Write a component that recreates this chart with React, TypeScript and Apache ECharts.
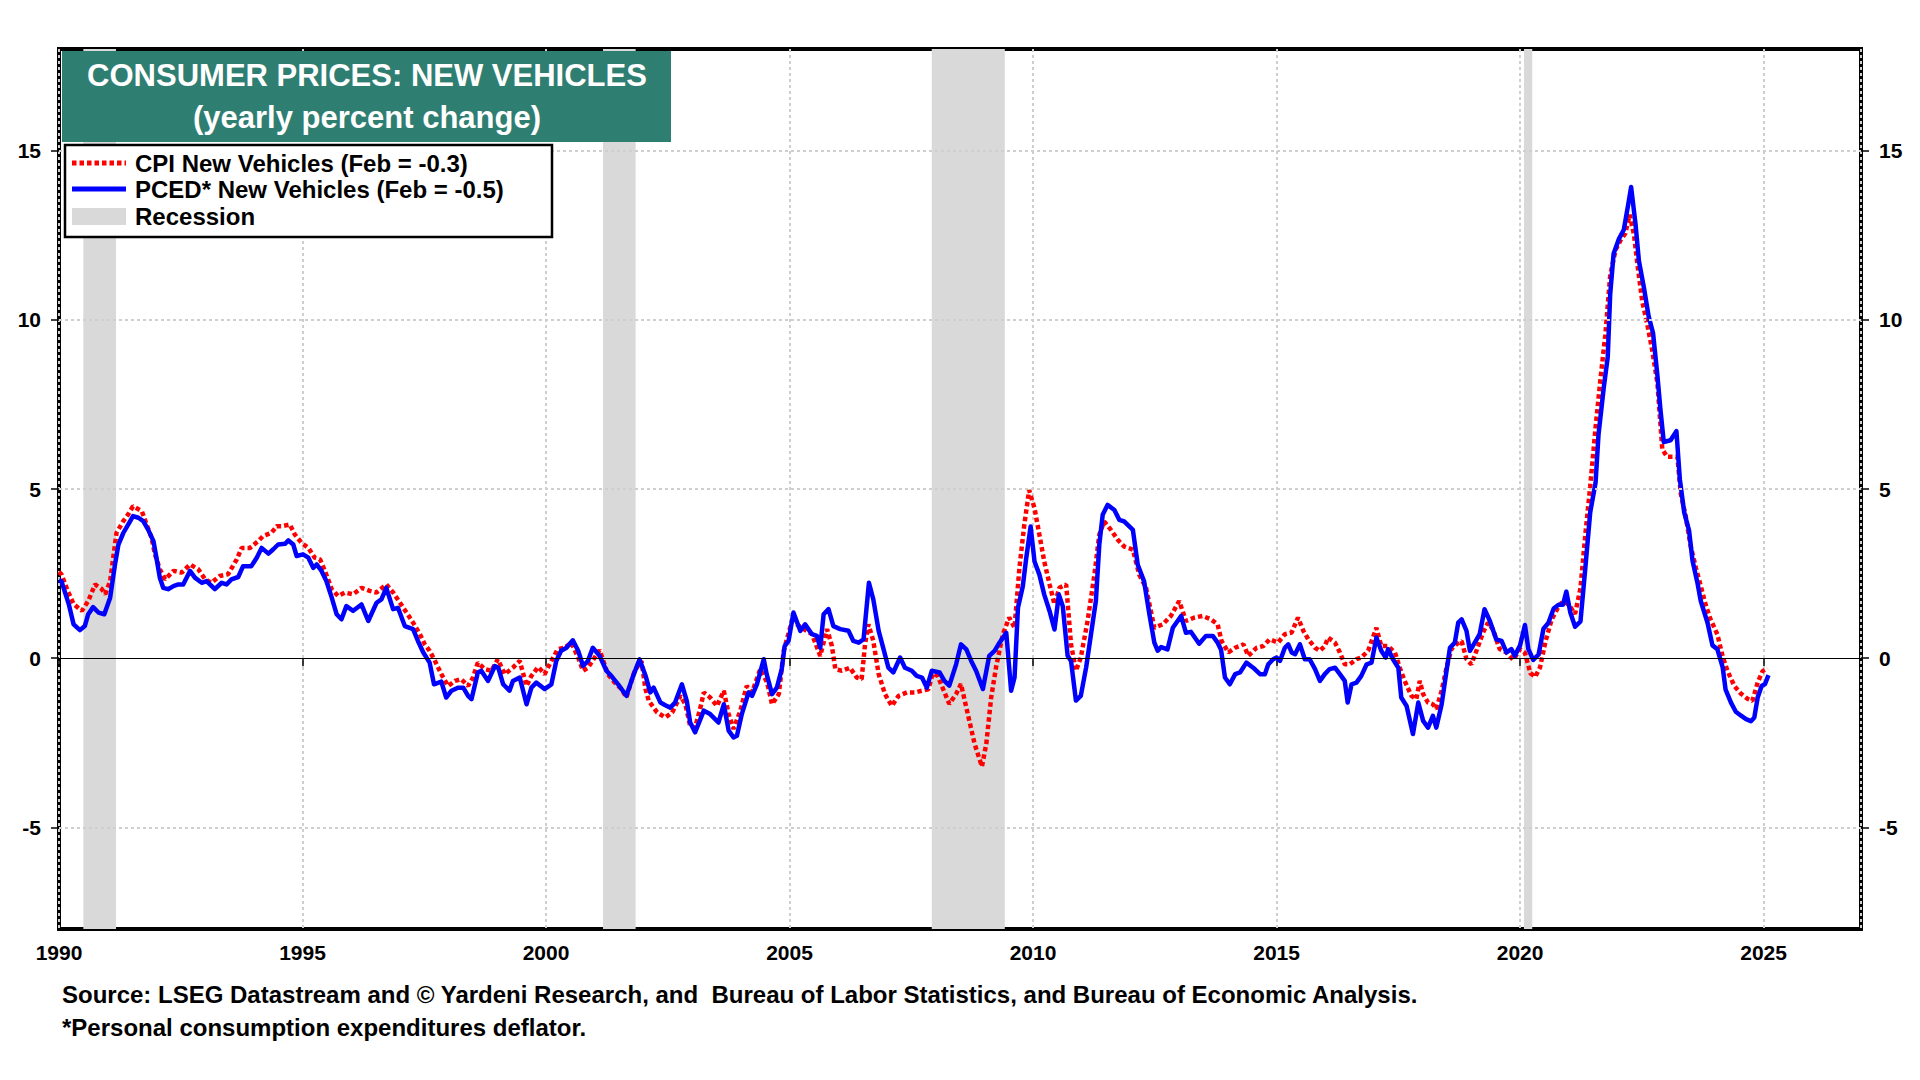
import React, { useEffect, useRef } from "react";
import * as echarts from "echarts";

const FONT = "'Liberation Sans', Arial, Helvetica, sans-serif";

const TITLE_LINE1 = "CONSUMER PRICES: NEW VEHICLES";
const TITLE_LINE2 = "(yearly percent change)";
const CPI_LABEL = "CPI New Vehicles (Feb = -0.3)";
const PCED_LABEL = "PCED* New Vehicles (Feb = -0.5)";
const RECESSION_LABEL = "Recession";
const SOURCE_LINE1 =
  "Source: LSEG Datastream and \u00A9 Yardeni Research, and  Bureau of Labor Statistics, and Bureau of Economic Analysis.";
const SOURCE_LINE2 = "*Personal consumption expenditures deflator.";

const X_MIN = 1990;
const X_MAX = 2027;
const Y_MIN = -8;
const Y_MAX = 18;
const Y_TICKS = [-5, 0, 5, 10, 15];
const Y_GRID = [-5, 5, 10, 15];

const RECESSIONS: [number, number][] = [
  [1990.5, 1991.17],
  [2001.17, 2001.84],
  [2007.92, 2009.42],
  [2020.08, 2020.25],
];

// CPI New Vehicles, yearly % change [decimal year, value]
const cpi1990s: [number, number][] = [
  [1990.0, 2.55], [1990.05, 2.48], [1990.18, 1.99], [1990.3, 1.6], [1990.47, 1.4], [1990.6, 1.69],
  [1990.74, 2.18], [1990.88, 2.04], [1990.95, 1.89], [1991.05, 2.28], [1991.18, 3.7], [1991.32, 4.05],
  [1991.42, 4.25], [1991.52, 4.49], [1991.7, 4.35], [1991.8, 3.95], [1991.9, 3.56], [1991.97, 3.07],
  [1992.07, 2.63], [1992.18, 2.33], [1992.35, 2.58], [1992.52, 2.53], [1992.69, 2.77], [1992.86, 2.63],
  [1993.0, 2.33], [1993.13, 2.23], [1993.3, 2.43], [1993.47, 2.48], [1993.65, 2.92], [1993.75, 3.26],
  [1993.92, 3.26], [1994.09, 3.46], [1994.19, 3.61], [1994.36, 3.7], [1994.47, 3.9], [1994.57, 3.9],
  [1994.74, 3.95], [1994.84, 3.66], [1994.98, 3.41], [1995.12, 3.26], [1995.25, 2.97], [1995.36, 2.92],
  [1995.46, 2.58], [1995.6, 2.04], [1995.73, 1.84], [1995.87, 1.94], [1996.04, 1.89], [1996.21, 2.08],
  [1996.38, 1.99], [1996.52, 1.94], [1996.72, 2.18], [1996.86, 1.94], [1997.07, 1.49], [1997.27, 1.05],
  [1997.41, 0.71], [1997.51, 0.41], [1997.61, 0.22], [1997.72, -0.08], [1997.85, -0.47], [1997.99, -0.82],
  [1998.13, -0.67], [1998.26, -0.62], [1998.4, -0.82], [1998.5, -0.57], [1998.6, -0.13], [1998.74, -0.32],
  [1998.88, -0.37], [1999.01, -0.03], [1999.15, -0.47], [1999.32, -0.28], [1999.46, -0.08], [1999.6, -0.82],
  [1999.7, -0.52], [1999.84, -0.26], [1999.97, -0.47],
];
const cpi2000s: [number, number][] = [
  [2000.11, -0.08], [2000.24, 0.27], [2000.38, 0.31], [2000.52, 0.46], [2000.66, 0.02], [2000.76, -0.37],
  [2000.86, -0.28], [2001.0, 0.02], [2001.1, 0.24], [2001.27, -0.47], [2001.41, -0.72], [2001.55, -0.91],
  [2001.65, -1.16], [2001.82, -0.37], [2001.96, -0.08], [2002.04, -0.9], [2002.11, -1.26], [2002.28, -1.6],
  [2002.45, -1.75], [2002.59, -1.6], [2002.76, -1.11], [2002.86, -1.36], [2002.96, -2.0], [2003.06, -2.05],
  [2003.17, -1.46], [2003.24, -1.01], [2003.37, -1.16], [2003.51, -1.41], [2003.65, -0.96], [2003.75, -1.65],
  [2003.85, -2.09], [2003.99, -1.55], [2004.12, -0.82], [2004.23, -1.01], [2004.4, -0.32], [2004.54, -0.72],
  [2004.64, -1.36], [2004.78, -1.06], [2004.88, 0.22], [2005.05, 1.1], [2005.25, 0.9], [2005.46, 0.71],
  [2005.63, 0.07], [2005.77, 0.86], [2005.87, 0.36], [2005.94, -0.32], [2006.07, -0.37], [2006.24, -0.28],
  [2006.38, -0.57], [2006.48, -0.62], [2006.55, 0.41], [2006.62, 1.0], [2006.72, 0.51], [2006.83, -0.47],
  [2006.96, -1.06], [2007.1, -1.41], [2007.24, -1.11], [2007.41, -1.01], [2007.58, -1.01], [2007.72, -0.96],
  [2007.85, -0.92], [2007.94, -0.45], [2008.04, -0.52], [2008.28, -1.35], [2008.42, -1.06], [2008.52, -0.76],
  [2008.66, -1.65], [2008.8, -2.53], [2008.95, -3.2], [2009.04, -2.53], [2009.14, -1.16], [2009.24, -0.27],
  [2009.38, 0.71], [2009.51, 1.2], [2009.62, 0.9], [2009.72, 2.67], [2009.82, 3.94], [2009.92, 4.97],
];
const cpi2010s: [number, number][] = [
  [2010.03, 4.43], [2010.13, 3.65], [2010.23, 2.86], [2010.34, 2.18], [2010.44, 1.59], [2010.54, 2.08],
  [2010.68, 2.18], [2010.78, 0.41], [2010.88, -0.37], [2010.98, 0.02], [2011.12, 1.1], [2011.26, 2.47],
  [2011.36, 3.65], [2011.46, 4.04], [2011.6, 3.79], [2011.74, 3.5], [2011.87, 3.3], [2012.05, 3.21],
  [2012.18, 2.47], [2012.32, 2.08], [2012.49, 0.9], [2012.66, 1.0], [2012.83, 1.25], [2013.0, 1.69],
  [2013.14, 1.1], [2013.31, 1.2], [2013.48, 1.25], [2013.65, 1.15], [2013.79, 1.0], [2013.87, 0.51],
  [2014.01, 0.17], [2014.15, 0.31], [2014.32, 0.41], [2014.42, 0.07], [2014.59, 0.31], [2014.73, 0.36],
  [2014.86, 0.56], [2015.03, 0.46], [2015.17, 0.71], [2015.31, 0.76], [2015.44, 1.2], [2015.55, 0.81],
  [2015.65, 0.56], [2015.79, 0.31], [2015.89, 0.22], [2015.99, 0.36], [2016.06, 0.61], [2016.2, 0.46],
  [2016.3, 0.17], [2016.4, -0.18], [2016.5, -0.18], [2016.64, -0.03], [2016.74, 0.02], [2016.88, 0.22],
  [2017.05, 0.9], [2017.15, 0.36], [2017.29, 0.36], [2017.43, 0.17], [2017.53, -0.28], [2017.63, -0.67],
  [2017.77, -1.11], [2017.87, -1.21], [2017.94, -0.67], [2018.01, -1.06], [2018.11, -1.31], [2018.21, -1.36],
  [2018.28, -1.5], [2018.39, -0.96], [2018.49, -0.28], [2018.59, 0.27], [2018.69, 0.41], [2018.8, 0.51],
  [2018.9, -0.03], [2019.0, -0.18], [2019.14, 0.36], [2019.24, 0.76], [2019.34, 1.05], [2019.44, 0.86],
  [2019.58, 0.27], [2019.72, 0.17], [2019.86, -0.05],
];
const cpi2020s: [number, number][] = [
  [2020.0, 0.27], [2020.1, 0.16], [2020.21, -0.44], [2020.31, -0.55], [2020.41, -0.27], [2020.52, 0.49],
  [2020.65, 1.15], [2020.79, 1.53], [2020.89, 1.69], [2021.0, 1.58], [2021.13, 1.31], [2021.24, 2.07],
  [2021.34, 3.66], [2021.44, 5.08], [2021.55, 6.82], [2021.65, 8.24], [2021.75, 9.55], [2021.85, 11.3],
  [2021.96, 12.06], [2022.06, 12.34], [2022.16, 12.55], [2022.25, 13.1], [2022.34, 12.5], [2022.41, 11.63],
  [2022.51, 10.53], [2022.61, 9.88], [2022.71, 9.12], [2022.82, 8.13], [2022.92, 6.17], [2023.02, 5.95],
  [2023.13, 5.95], [2023.23, 5.95], [2023.3, 4.86], [2023.4, 4.2], [2023.5, 3.33], [2023.61, 2.67],
  [2023.71, 2.13], [2023.81, 1.58], [2023.91, 1.15], [2024.05, 0.71], [2024.16, 0.05], [2024.26, -0.38],
  [2024.4, -0.82], [2024.53, -1.04], [2024.67, -1.2], [2024.77, -1.26], [2024.88, -0.71], [2024.98, -0.38],
  [2025.08, -0.3],
];

// PCED New Vehicles, yearly % change [decimal year, value]
const pced1990s: [number, number][] = [
  [1990.0, 2.3], [1990.05, 2.28], [1990.2, 1.6], [1990.3, 1.0], [1990.43, 0.83], [1990.53, 0.95], [1990.6, 1.3],
  [1990.7, 1.51], [1990.81, 1.35], [1990.93, 1.3], [1991.05, 1.79], [1991.15, 2.77], [1991.22, 3.36],
  [1991.32, 3.7], [1991.42, 3.95], [1991.52, 4.2], [1991.63, 4.15], [1991.73, 4.05], [1991.83, 3.8],
  [1991.94, 3.46], [1992.0, 2.97], [1992.07, 2.38], [1992.14, 2.08], [1992.24, 2.04], [1992.35, 2.13],
  [1992.45, 2.18], [1992.55, 2.18], [1992.69, 2.58], [1992.79, 2.38], [1992.93, 2.23], [1993.03, 2.28],
  [1993.2, 2.04], [1993.34, 2.23], [1993.44, 2.18], [1993.54, 2.33], [1993.68, 2.4], [1993.78, 2.72],
  [1993.95, 2.72], [1994.06, 2.97], [1994.16, 3.26], [1994.3, 3.09], [1994.4, 3.22], [1994.5, 3.36],
  [1994.64, 3.38], [1994.71, 3.48], [1994.81, 3.36], [1994.88, 3.02], [1995.01, 3.07], [1995.12, 2.97],
  [1995.22, 2.67], [1995.29, 2.77], [1995.39, 2.58], [1995.49, 2.28], [1995.6, 1.79], [1995.7, 1.3],
  [1995.8, 1.15], [1995.9, 1.54], [1996.04, 1.4], [1996.21, 1.59], [1996.35, 1.1], [1996.52, 1.64],
  [1996.62, 1.74], [1996.72, 2.08], [1996.86, 1.45], [1996.96, 1.49], [1997.1, 0.95], [1997.27, 0.86],
  [1997.37, 0.51], [1997.48, 0.17], [1997.61, -0.13], [1997.7, -0.77], [1997.85, -0.69], [1997.95, -1.16],
  [1998.06, -0.96], [1998.19, -0.87], [1998.3, -0.87], [1998.4, -1.11], [1998.47, -1.21], [1998.6, -0.42],
  [1998.67, -0.37], [1998.81, -0.67], [1998.95, -0.23], [1999.02, -0.28], [1999.12, -0.77], [1999.25, -0.96],
  [1999.32, -0.67], [1999.46, -0.57], [1999.6, -1.36], [1999.7, -0.87], [1999.8, -0.72], [1999.97, -0.91],
];
const pced2000s: [number, number][] = [
  [2000.11, -0.77], [2000.21, -0.08], [2000.31, 0.22], [2000.42, 0.31], [2000.55, 0.53], [2000.66, 0.22],
  [2000.76, -0.23], [2000.86, -0.08], [2000.96, 0.31], [2001.1, 0.07], [2001.24, -0.37], [2001.34, -0.52],
  [2001.48, -0.77], [2001.65, -1.11], [2001.79, -0.52], [2001.92, -0.03], [2002.04, -0.5], [2002.14, -1.01],
  [2002.21, -0.87], [2002.35, -1.31], [2002.45, -1.39], [2002.55, -1.46], [2002.65, -1.31], [2002.79, -0.77],
  [2002.89, -1.26], [2002.96, -1.9], [2003.06, -2.19], [2003.24, -1.55], [2003.37, -1.65], [2003.54, -1.9],
  [2003.65, -1.36], [2003.75, -2.14], [2003.85, -2.34], [2003.92, -2.29], [2004.02, -1.65], [2004.16, -1.01],
  [2004.23, -1.11], [2004.33, -0.77], [2004.47, -0.03], [2004.53, -0.47], [2004.64, -1.06], [2004.74, -0.87],
  [2004.84, -0.32], [2004.9, 0.36], [2004.98, 0.51], [2005.08, 1.35], [2005.22, 0.81], [2005.32, 1.0],
  [2005.46, 0.71], [2005.56, 0.66], [2005.63, 0.31], [2005.7, 1.3], [2005.8, 1.45], [2005.9, 0.95],
  [2006.04, 0.86], [2006.21, 0.81], [2006.31, 0.51], [2006.42, 0.46], [2006.52, 0.56], [2006.63, 2.23],
  [2006.72, 1.74], [2006.83, 0.81], [2006.93, 0.27], [2007.03, -0.28], [2007.13, -0.42], [2007.27, 0.02],
  [2007.37, -0.28], [2007.51, -0.37], [2007.61, -0.52], [2007.72, -0.57], [2007.82, -0.87], [2007.92, -0.37],
  [2008.08, -0.42], [2008.18, -0.67], [2008.28, -0.81], [2008.42, -0.18], [2008.52, 0.41], [2008.63, 0.26],
  [2008.73, -0.08], [2008.83, -0.37], [2008.97, -0.91], [2009.1, 0.07], [2009.21, 0.22], [2009.31, 0.46],
  [2009.45, 0.75], [2009.55, -0.96], [2009.62, -0.57], [2009.69, 1.49], [2009.79, 2.13], [2009.86, 2.96],
  [2009.95, 3.89],
];
const pced2010s: [number, number][] = [
  [2010.03, 2.86], [2010.13, 2.47], [2010.23, 1.88], [2010.34, 1.39], [2010.44, 0.85], [2010.53, 1.88],
  [2010.61, 1.54], [2010.71, 0.07], [2010.78, -0.08], [2010.88, -1.25], [2010.98, -1.11], [2011.09, -0.27],
  [2011.19, 0.71], [2011.29, 1.69], [2011.36, 3.35], [2011.43, 4.24], [2011.53, 4.53], [2011.67, 4.38],
  [2011.77, 4.09], [2011.87, 4.04], [2012.05, 3.79], [2012.15, 2.76], [2012.28, 2.27], [2012.39, 1.29],
  [2012.49, 0.46], [2012.56, 0.22], [2012.63, 0.33], [2012.76, 0.26], [2012.87, 0.9], [2013.04, 1.25],
  [2013.14, 0.75], [2013.24, 0.78], [2013.41, 0.43], [2013.55, 0.66], [2013.69, 0.66], [2013.79, 0.46],
  [2013.86, 0.25], [2013.94, -0.57], [2014.04, -0.77], [2014.15, -0.47], [2014.25, -0.42], [2014.38, -0.13],
  [2014.52, -0.28], [2014.66, -0.47], [2014.76, -0.47], [2014.83, -0.18], [2014.93, -0.03], [2015.0, 0.02],
  [2015.07, -0.08], [2015.17, 0.31], [2015.24, 0.41], [2015.31, 0.17], [2015.38, 0.12], [2015.48, 0.41],
  [2015.58, -0.03], [2015.68, -0.03], [2015.79, -0.32], [2015.89, -0.67], [2015.99, -0.47], [2016.09, -0.32],
  [2016.2, -0.28], [2016.3, -0.47], [2016.4, -0.67], [2016.46, -1.31], [2016.54, -0.77], [2016.64, -0.72],
  [2016.74, -0.52], [2016.85, -0.18], [2016.95, -0.13], [2017.05, 0.61], [2017.15, 0.22], [2017.24, 0.02],
  [2017.29, 0.27], [2017.39, -0.03], [2017.5, -0.28], [2017.56, -1.16], [2017.67, -1.41], [2017.8, -2.24],
  [2017.91, -1.31], [2018.01, -1.85], [2018.11, -2.05], [2018.21, -1.7], [2018.28, -2.05], [2018.39, -1.36],
  [2018.49, -0.37], [2018.56, 0.31], [2018.66, 0.46], [2018.73, 1.05], [2018.8, 1.15], [2018.9, 0.81],
  [2018.97, 0.22], [2019.07, 0.46], [2019.17, 0.71], [2019.27, 1.45], [2019.38, 1.1], [2019.51, 0.56],
  [2019.62, 0.51], [2019.72, 0.17], [2019.82, 0.27], [2019.89, 0.07],
];
const pced2020s: [number, number][] = [
  [2020.0, 0.38], [2020.1, 0.98], [2020.17, 0.27], [2020.27, -0.05], [2020.38, 0.11], [2020.48, 0.87],
  [2020.58, 1.04], [2020.69, 1.47], [2020.79, 1.58], [2020.88, 1.58], [2020.95, 1.97], [2021.03, 1.36],
  [2021.13, 0.93], [2021.24, 1.09], [2021.34, 2.67], [2021.44, 4.31], [2021.55, 5.19], [2021.61, 6.6],
  [2021.72, 8.02], [2021.8, 8.9], [2021.85, 10.75], [2021.92, 11.95], [2022.03, 12.39], [2022.13, 12.66],
  [2022.21, 13.32], [2022.28, 13.92], [2022.37, 12.83], [2022.44, 11.74], [2022.54, 10.97], [2022.64, 10.1],
  [2022.73, 9.61], [2022.82, 8.35], [2022.88, 7.37], [2022.95, 6.39], [2023.09, 6.44], [2023.21, 6.71],
  [2023.28, 5.29], [2023.37, 4.31], [2023.47, 3.77], [2023.54, 2.89], [2023.64, 2.24], [2023.71, 1.69],
  [2023.85, 1.04], [2023.95, 0.38], [2024.05, 0.27], [2024.16, -0.27], [2024.22, -0.93], [2024.33, -1.31],
  [2024.43, -1.58], [2024.53, -1.69], [2024.64, -1.8], [2024.74, -1.86], [2024.81, -1.75], [2024.88, -1.15],
  [2024.96, -0.82], [2025.03, -0.76], [2025.1, -0.5],
];

const cpiData = [...cpi1990s, ...cpi2000s, ...cpi2010s, ...cpi2020s];
const pcedData = [...pced1990s, ...pced2000s, ...pced2010s, ...pced2020s];

export default function App() {
  const ref = useRef<HTMLDivElement>(null);

  useEffect(() => {
    if (!ref.current) return;
    const chart = echarts.init(ref.current, undefined, { renderer: "svg" });

    const labelStyle = {
      color: "#000",
      fontFamily: FONT,
      fontWeight: "bold" as const,
      fontSize: 21,
    };
    const gridLine = { color: "#CFCFCF", type: [3, 3] as number[], width: 2 };

    const yAxisBase = (position: "left" | "right") => ({
      type: "value" as const,
      position,
      min: Y_MIN,
      max: Y_MAX,
      axisLine: { show: false },
      axisTick: {
        show: true,
        length: 8,
        customValues: Y_TICKS,
        lineStyle: { color: "#000", width: 1.5 },
      },
      axisLabel: {
        ...labelStyle,
        customValues: Y_TICKS,
        margin: 18,
        formatter: (v: number) => String(v),
      },
      splitLine: { show: false },
    });

    const footStyle = {
      fill: "#000",
      fontFamily: FONT,
      fontWeight: "bold",
      fontSize: 24,
      align: "left",
      verticalAlign: "middle",
    };

    chart.setOption({
      animation: false,
      backgroundColor: "#fff",
      textStyle: { fontFamily: FONT },
      grid: {
        left: 59,
        right: 59,
        top: 49,
        bottom: 151,
        show: true,
        borderColor: "#000",
        borderWidth: 4,
        backgroundColor: "transparent",
      },
      xAxis: {
        type: "value",
        min: X_MIN,
        max: X_MAX,
        interval: 5,
        axisLine: { show: false },
        axisTick: { show: true, length: 8, lineStyle: { color: "#000", width: 1.5 } },
        axisLabel: {
          ...labelStyle,
          margin: 13,
          showMaxLabel: false,
          formatter: (v: number) => (v % 5 === 0 ? String(v) : ""),
        },
        splitLine: { show: true, lineStyle: gridLine },
      },
      yAxis: [yAxisBase("left"), yAxisBase("right")],
      series: [
        {
          name: RECESSION_LABEL,
          type: "line",
          data: [],
          z: 1,
          silent: true,
          markArea: {
            silent: true,
            itemStyle: { color: "#D9D9D9" },
            data: RECESSIONS.map(([a, b]) => [{ xAxis: a }, { xAxis: b }]),
          },
          markLine: {
            silent: true,
            symbol: ["none", "none"],
            label: { show: false },
            lineStyle: gridLine,
            data: [
              ...Y_GRID.map((v) => ({ yAxis: v })),
              { yAxis: 0, lineStyle: { color: "#000", type: "solid", width: 1.2 } },
            ],
          },
        },
        {
          name: CPI_LABEL,
          type: "line",
          data: cpiData,
          symbol: "none",
          showSymbol: false,
          z: 2,
          lineStyle: { color: "#FF0000", width: 4.5, type: [4.5, 3], cap: "butt" },
        },
        {
          name: PCED_LABEL,
          type: "line",
          data: pcedData,
          symbol: "none",
          showSymbol: false,
          z: 3,
          lineStyle: { color: "#0000FF", width: 4.5, join: "round" },
        },
      ],
      graphic: [
        {
          type: "rect",
          z: 100,
          shape: { x: 62, y: 51, width: 609, height: 91 },
          style: { fill: "#2F7E72" },
        },
        {
          type: "text",
          z: 101,
          x: 367,
          y: 75,
          style: {
            text: TITLE_LINE1,
            fill: "#fff",
            fontFamily: FONT,
            fontWeight: "bold",
            fontSize: 31,
            align: "center",
            verticalAlign: "middle",
          },
        },
        {
          type: "text",
          z: 101,
          x: 367,
          y: 117,
          style: {
            text: TITLE_LINE2,
            fill: "#fff",
            fontFamily: FONT,
            fontWeight: "bold",
            fontSize: 31,
            align: "center",
            verticalAlign: "middle",
          },
        },
        {
          type: "rect",
          z: 100,
          shape: { x: 65, y: 145, width: 487, height: 92 },
          style: { fill: "#fff", stroke: "#000", lineWidth: 2.5 },
        },
        {
          type: "line",
          z: 101,
          shape: { x1: 72, y1: 163, x2: 126, y2: 163 },
          style: { stroke: "#FF0000", lineWidth: 5, lineDash: [4.5, 3], lineCap: "butt" },
        },
        {
          type: "line",
          z: 101,
          shape: { x1: 72, y1: 189, x2: 126, y2: 189 },
          style: { stroke: "#0000FF", lineWidth: 5 },
        },
        {
          type: "rect",
          z: 101,
          shape: { x: 72, y: 208, width: 54, height: 17 },
          style: { fill: "#D9D9D9" },
        },
        ...[
          [CPI_LABEL, 163],
          [PCED_LABEL, 189],
          [RECESSION_LABEL, 216],
        ].map(([t, y]) => ({
          type: "text",
          z: 101,
          x: 135,
          y: y as number,
          style: {
            text: t as string,
            fill: "#000",
            fontFamily: FONT,
            fontWeight: "bold",
            fontSize: 24,
            align: "left",
            verticalAlign: "middle",
          },
        })),
        {
          type: "text",
          x: 62,
          y: 994,
          style: { ...footStyle, text: SOURCE_LINE1 },
        },
        {
          type: "text",
          x: 62,
          y: 1027,
          style: { ...footStyle, text: SOURCE_LINE2 },
        },
      ],
    });

    return () => {
      chart.dispose();
    };
  }, []);

  return (
    <div
      ref={ref}
      style={{ position: "fixed", left: 0, top: 0, width: 1920, height: 1080, background: "#fff" }}
    />
  );
}
